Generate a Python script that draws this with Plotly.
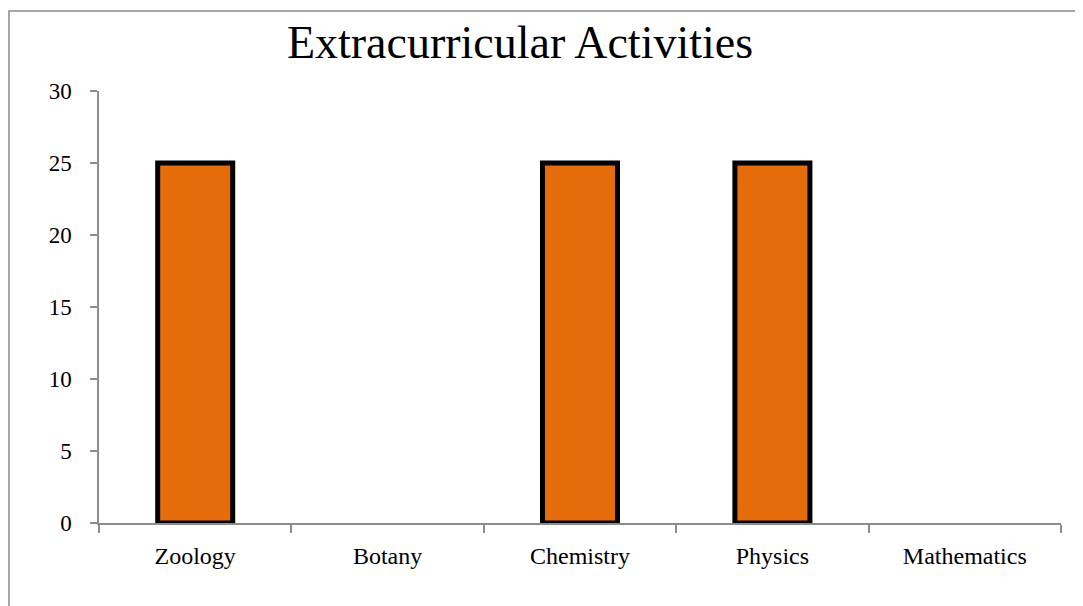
import plotly.graph_objects as go

# chart data
subjects = ["Zoology", "Botany", "Chemistry", "Physics", "Mathematics"]
activities = [25, 0, 25, 25, 0]
y_ticks = [0, 5, 10, 15, 20, 25, 30]

serif = "Liberation Serif, Times New Roman, serif"

# no outline for empty bars
outline = [5 if v > 0 else 0 for v in activities]

fig = go.Figure()

fig.add_trace(go.Bar(
    x=subjects,
    y=activities,
    width=0.39,
    marker=dict(color="#E46C0A", line=dict(color="black", width=outline)),
    showlegend=False
))

# outer chart border (open on the right/bottom like the original)
fig.add_shape(
    type="rect", xref="paper", yref="paper",
    x0=-0.0936, x1=1.2, y0=-0.3, y1=1.185,
    line=dict(color="#8c8c8c", width=1.5),
    layer="below"
)

fig.update_layout(
    width=1083,
    height=606,
    margin=dict(l=91, r=30, t=83, b=91),
    paper_bgcolor="white",
    plot_bgcolor="white",
    font=dict(family=serif, color="black", size=23),
    title=dict(
        text="Extracurricular Activities",
        x=512 / 1083, xanchor="center",
        y=1 - 34 / 606, yanchor="middle",
        font=dict(family=serif, size=46, color="black")
    ),
    xaxis=dict(
        showline=True, linecolor="#8c8c8c", linewidth=1.5,
        ticks="outside", tickson="boundaries", ticklen=8,
        tickcolor="#8c8c8c", tickwidth=1.5,
        showgrid=False,
        ticklabelstandoff=10,
        tickfont=dict(size=24)
    ),
    yaxis=dict(
        range=[0, 30], tickvals=y_ticks,
        showline=True, linecolor="#8c8c8c", linewidth=1.5,
        ticks="outside", ticklen=7, tickcolor="#8c8c8c", tickwidth=1.5,
        showgrid=False, zeroline=False,
        ticklabelstandoff=14,
        tickfont=dict(size=23)
    )
)

fig.write_html("out.html")
